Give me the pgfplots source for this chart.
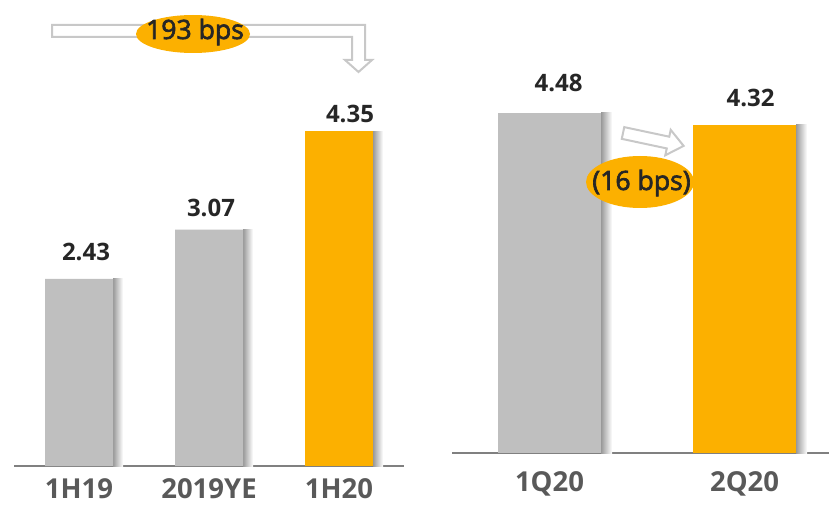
\documentclass[border=0pt]{standalone}
\usepackage{pgfplots}
\pgfplotsset{compat=1.18}
\usepackage{fontspec}
\setmainfont{Open Sans}
\newfontfamily\notefamily[FakeBold=2.5]{Open Sans}

\definecolor{bargray}{RGB}{191,191,191}
\definecolor{barorange}{RGB}{252,176,0}
\definecolor{axisgray}{RGB}{128,128,128}
\definecolor{arrowgray}{RGB}{200,200,200}
\definecolor{valtext}{RGB}{38,38,38}
\definecolor{cattext}{RGB}{89,89,89}

\newcommand{\valfont}{\fontsize{24}{28}\selectfont\bfseries}
\newcommand{\catfont}{\fontsize{27.5}{31}\selectfont\bfseries}
\newcommand{\notefont}{\notefamily\fontsize{26.6}{30}\selectfont}

\pgfplotsset{
  panel/.style={
    scale only axis,
    ymin=0, ymax=5,
    axis x line*=bottom,
    hide y axis,
    x axis line style={-, draw=axisgray, line width=2pt},
    major tick length=0pt,
    xtick={0,1,2},
    xticklabel style={anchor=base, font=\catfont, text=cattext},
    clip=false,
  },
  valbars/.style={
    ybar, bar shift=0pt, draw=none,
    nodes near coords={\pgfmathprintnumber[fixed,fixed zerofill,precision=2,assume math mode=true]{\pgfplotspointmeta}},
    visualization depends on={\thisrow{dx} \as \labdx},
    visualization depends on={\thisrow{dy} \as \labdy},
    nodes near coords style={anchor=base, xshift=\labdx pt, yshift=\labdy pt,
      font=\valfont, text=valtext},
  },
  shadowbar/.style={
    ybar, draw=none, left color=black!40, right color=white,
  },
}

\begin{document}
\begin{tikzpicture}
\path[use as bounding box] (0,0) rectangle (829pt,504pt);

% half-year comparison
\begin{axis}[panel,
  at={(14pt,38pt)}, anchor=south west,
  width=390pt, height=385pt,
  xmin=-0.5, xmax=2.5,
  xticklabels={1H19,2019YE,1H20},
  xticklabel style={yshift=-32pt}]
  % soft shadows on the right of each bar
  \addplot[shadowbar, bar width=10pt, bar shift=39pt] coordinates {(0,2.43)};
  \addplot[shadowbar, bar width=10pt, bar shift=39pt] coordinates {(1,3.07)};
  \addplot[shadowbar, bar width=10pt, bar shift=39pt] coordinates {(2,4.35)};
  \addplot[valbars, bar width=68pt, fill=bargray] table {
    x y dx dy
    0 2.43 7 18
    1 3.07 2 13
  };
  \addplot[valbars, bar width=68pt, fill=barorange] table {
    x y dx dy
    2 4.35 11 9
  };
\end{axis}

% quarter-on-quarter comparison
\begin{axis}[panel,
  at={(452pt,51pt)}, anchor=south west,
  width=377pt, height=380pt,
  xmin=-0.5, xmax=1.433,
  xtick={0,1},
  xticklabels={1Q20,2Q20},
  xticklabel style={yshift=-38pt}]
  \addplot[shadowbar, bar width=11pt, bar shift=57pt] coordinates {(0,4.48)};
  \addplot[shadowbar, bar width=11pt, bar shift=57pt] coordinates {(1,4.32)};
  \addplot[valbars, bar width=103pt, fill=bargray] table {
    x y dx dy
    0 4.48 9 21
  };
  \addplot[valbars, bar width=103pt, fill=barorange] table {
    x y dx dy
    1 4.32 6 18
  };
\end{axis}

% bent hollow arrow with the half-year change
\draw[arrowgray, line width=2pt, fill=white, line join=miter]
  (52pt,479pt) -- (365pt,479pt) -- (365pt,444pt) -- (372pt,444pt)
  -- (358.5pt,432pt) -- (345pt,444pt) -- (352pt,444pt) -- (352pt,467pt)
  -- (52pt,467pt) -- cycle;
\fill[barorange] (193pt,470pt) ellipse [x radius=57pt, y radius=19pt];
\node[anchor=base, inner sep=0pt, text=valtext, font=\notefont] at (195pt,465pt) {193 bps};

% slanted hollow arrow with the quarterly change
\begin{scope}[shift={(623pt,371pt)}, rotate=-12]
  \draw[arrowgray, line width=2pt, fill=white, line join=miter]
    (0pt,6pt) -- (46pt,6pt) -- (46pt,13pt) -- (62pt,0pt) -- (46pt,-13pt)
    -- (46pt,-6pt) -- (0pt,-6pt) -- cycle;
\end{scope}
\fill[barorange] (640pt,322pt) ellipse [x radius=54pt, y radius=26pt];
\node[anchor=base, inner sep=0pt, text=valtext, font=\notefont] at (641.5pt,314pt) {(16 bps)};
\end{tikzpicture}
\end{document}
